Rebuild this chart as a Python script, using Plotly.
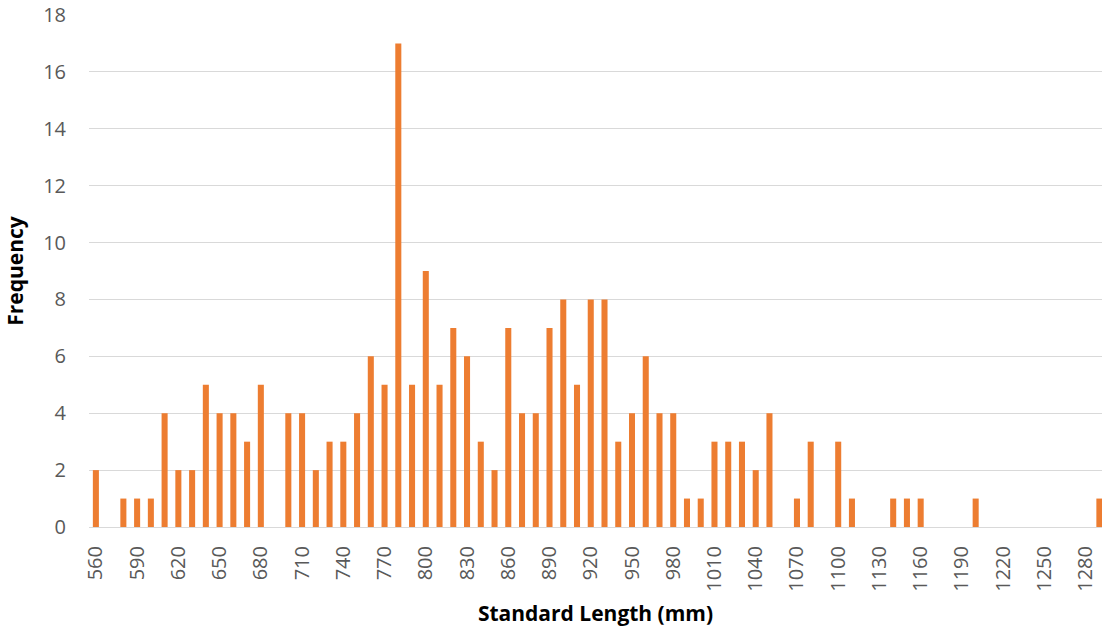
import plotly.graph_objects as go

lengths = list(range(560, 1300, 10))
frequency = [2, 0, 1, 1, 1, 4, 2, 2, 5, 4, 4, 3, 5, 0, 4, 4, 2, 3, 3, 4,
             6, 5, 17, 5, 9, 5, 7, 6, 3, 2, 7, 4, 4, 7, 8, 5, 8, 8, 3, 4,
             6, 4, 4, 1, 1, 3, 3, 3, 2, 4, 0, 1, 3, 0, 3, 1, 0, 0, 1, 1,
             1, 0, 0, 0, 1, 0, 0, 0, 0, 0, 0, 0, 0, 1]
tick_labels = [str(v) for v in range(560, 1290, 30)]
categories = [str(v) for v in lengths]

FONT = "Open Sans"

fig = go.Figure(go.Bar(x=categories, y=frequency, marker=dict(color="#ED7D31", line=dict(width=0))))

fig.update_layout(
    width=1102, height=631,
    margin=dict(l=89, r=0, t=15, b=104),
    paper_bgcolor="white", plot_bgcolor="white",
    bargap=0.56,
    showlegend=False,
    font=dict(family=FONT, color="#595959", size=20),
)
fig.update_xaxes(
    type="category",
    range=[-0.5, 73.19],
    tickmode="array", tickvals=tick_labels, ticktext=tick_labels,
    tickangle=-90,
    tickfont=dict(size=20, color="#595959", family=FONT),
    showgrid=False, showline=True, linecolor="#d9d9d9", linewidth=1,
    ticks="", ticklabelstandoff=10,
    title=dict(text="<b>Standard Length (mm)</b>", font=dict(size=21, color="black", family=FONT), standoff=15),
)
fig.update_yaxes(
    range=[0, 18], dtick=2,
    showgrid=True, gridcolor="#d9d9d9", gridwidth=1,
    zeroline=False, showline=False,
    tickfont=dict(size=20, color="#595959", family=FONT),
    ticks="", ticklabelstandoff=22,
    title=dict(text="<b>Frequency</b>", font=dict(size=21, color="black", family=FONT), standoff=13),
)

fig.write_html("out.html", config={"displayModeBar": False},
               post_script="document.body.style.margin='0';document.body.style.padding='0';")
